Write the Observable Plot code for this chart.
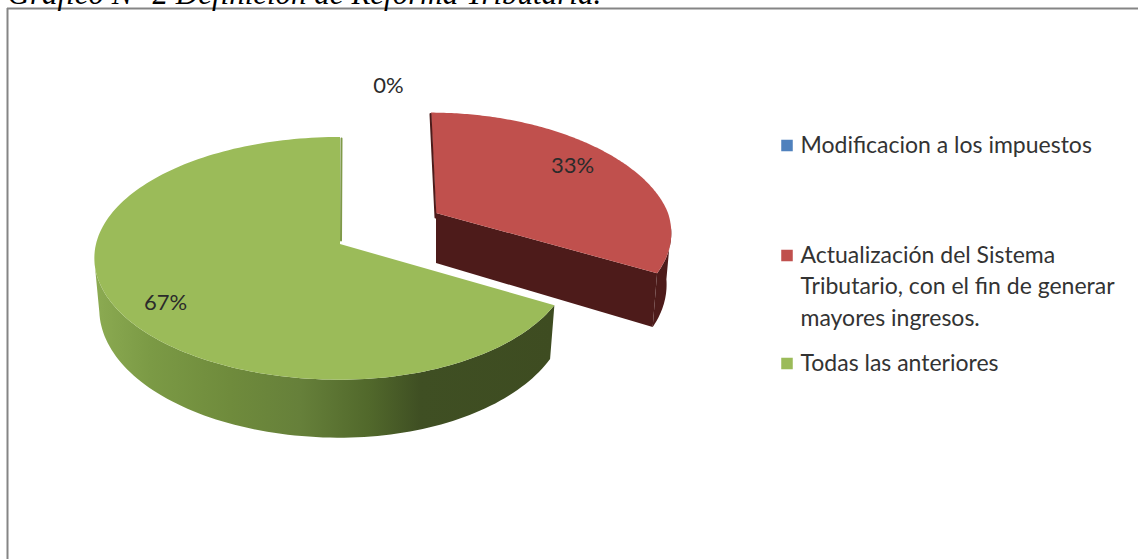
<!DOCTYPE html>
<html lang="es">
<head>
<meta charset="utf-8">
<style>html,body{margin:0;padding:0;background:#fff;overflow:hidden}svg{display:block}</style>
<script src="https://cdn.jsdelivr.net/npm/d3@7"></script>
<script src="https://cdn.jsdelivr.net/npm/@observablehq/plot@0.6"></script>
</head>
<body>
<script>
const titleText = "Gráfico N° 2 Definición de Reforma Tributaria.";
const categories = ["Modificacion a los impuestos", "Actualización del Sistema\nTributario, con el fin de generar\nmayores ingresos.", "Todas las anteriores"];
const percents = [0, 33, 67];
const topColors = ["#4f81bd", "#c0504d", "#9bbb59"];
const legendY = [145, 255, 363];
const labelPos = [[388, 85], [572, 165], [165, 302]];
const W = 1138, H = 559;

const views = [
  {x0: 390, y0: 230, bL: 232, bR: 232, a: 112, aB: 112, k: 0.1157, kx: 0.1157, shear: 0},
  {x0: 436, y0: 213, bL: 232, bR: 232, a: 112, aB: 118, k: 0.1157, kx: 0.167, shear: 5},
  {x0: 340, y0: 244, bL: 244, bR: 231, a: 119.4, aB: 120, k: 0.1157, kx: 0.1157, shear: 0}
];
const project = (view, ang) => {
  const u = Math.sin(ang), v = -Math.cos(ang);
  const b = u < 0 ? view.bL : view.bR;
  const a = v < 0 ? view.a : view.aB;
  return {
    x: view.x0 + b * u / (1 - view.kx * v) + view.shear * Math.min(v, 0),
    y: view.y0 + a * v / (1 - view.k * v),
    v
  };
};
const lower = (view, p) => ({
  x: view.x0 + (p.x - view.x0) * 0.98,
  y: p.y + 50 + 8 * p.v
});

const arcs = d3.pie().sort(null)(percents);
const fan = [], rim = [], wall = [], cut = [];
arcs.forEach((arc, i) => {
  if (arc.endAngle - arc.startAngle === 0) return;
  const view = views[i];
  const n = 160;
  for (let s = 0; s <= n; s++) {
    const ang = arc.startAngle + (arc.endAngle - arc.startAngle) * s / n;
    const p = project(view, ang);
    fan.push({i, x1: view.x0, y1: view.y0, x2: p.x, y2: p.y, fill: topColors[i]});
    if (p.v > 0.12) {
      const b = lower(view, p);
      rim.push({i, x1: p.x, y1: p.y, x2: b.x, y2: b.y, fill: i === 1 ? "#4d1b1a" : "url(#greenSide)"});
    }
  }
});
{
  const view = views[1], end = project(view, arcs[1].endAngle);
  const apex = {x: view.x0, y: view.y0, v: 0};
  const ab = lower(view, apex), eb = lower(view, end);
  wall.push({x1: apex.x, y1: apex.y, x2: ab.x, y2: ab.y}, {x1: end.x, y1: end.y, x2: eb.x, y2: eb.y});
  const start = project(view, arcs[1].startAngle);
  cut.push({x: start.x - 1, y: start.y + 1, z: "r", c: "#4d1b1a"}, {x: apex.x - 1, y: apex.y + 4, z: "r", c: "#4d1b1a"});
  const g = views[2], gs = project(g, arcs[2].endAngle);
  cut.push({x: gs.x + 1, y: gs.y + 1, z: "g", c: "#7f9a49"}, {x: g.x0 + 0.5, y: g.y0 - 4, z: "g", c: "#7f9a49"});
}
const shadeStops = [[94, "#8cab52"], [150, "#7b9a45"], [230, "#6f8b3c"], [300, "#66803a"], [370, "#51682b"], [420, "#3f4f23"], [553, "#3e4c21"]];

const legendLines = categories.flatMap((c, i) =>
  c.split("\n").map((t, j) => ({t, y: legendY[i] + j * 31.5})));
const swatches = categories.map((c, i) => ({y: legendY[i], fill: topColors[i]}));
const labels = percents.map((p, i) => ({t: p + "%", x: labelPos[i][0], y: labelPos[i][1]}));

// Defines the horizontal shading used by the green slice's outer side
const gradientDefs = (index, {x}) => {
  const ns = "http://www.w3.org/2000/svg";
  const defs = document.createElementNS(ns, "defs");
  const lg = document.createElementNS(ns, "linearGradient");
  lg.setAttribute("id", "greenSide");
  lg.setAttribute("gradientUnits", "userSpaceOnUse");
  lg.setAttribute("x1", x(shadeStops[0][0]));
  lg.setAttribute("x2", x(shadeStops[shadeStops.length - 1][0]));
  lg.setAttribute("y1", 0);
  lg.setAttribute("y2", 0);
  const span = shadeStops[shadeStops.length - 1][0] - shadeStops[0][0];
  for (const [px, col] of shadeStops) {
    const st = document.createElementNS(ns, "stop");
    st.setAttribute("offset", (px - shadeStops[0][0]) / span);
    st.setAttribute("stop-color", col);
    lg.appendChild(st);
  }
  defs.appendChild(lg);
  return defs;
};

const font = "Lato, 'Open Sans', sans-serif";
const chart = Plot.plot({
  width: W, height: H,
  margin: 0,
  x: {domain: [0, W], range: [0, W], axis: null},
  y: {domain: [0, H], range: [0, H], axis: null},
  color: {type: "identity"},
  style: {background: "#fff"},
  marks: [
    gradientDefs,
    Plot.ruleY([8], {x1: 7, x2: W, stroke: "#858585", strokeWidth: 2}),
    Plot.ruleX([7], {y1: 8, y2: H, stroke: "#858585", strokeWidth: 2}),
    Plot.text([titleText], {x: () => 7, y: () => 3, text: d => d, textAnchor: "start", lineAnchor: "bottom",
      fontFamily: "'Liberation Serif', serif", fontStyle: "italic", fontSize: 31, fill: "#000"}),
    Plot.area(wall, {x1: "x1", y1: "y1", x2: "x2", y2: "y2", fill: "#4d1b1a"}),
    Plot.area(rim, {x1: "x1", y1: "y1", x2: "x2", y2: "y2", z: "i", fill: d => d.fill}),
    Plot.area(fan, {x1: "x1", y1: "y1", x2: "x2", y2: "y2", z: "i", fill: "fill"}),
    Plot.line(cut, {x: "x", y: "y", z: "z", stroke: "c", strokeWidth: 2}),
    Plot.text(labels, {x: "x", y: "y", text: "t", fontFamily: font, fontSize: 22, fill: "#2b2b2b"}),
    Plot.dot(swatches, {x: () => 786.5, y: "y", symbol: "square", r: 6.5, fill: "fill"}),
    Plot.text(legendLines, {x: () => 800, y: "y", text: "t", textAnchor: "start", fontFamily: font, fontSize: 23, fill: "#333"})
  ]
});
document.body.appendChild(chart);
</script>
</body>
</html>
